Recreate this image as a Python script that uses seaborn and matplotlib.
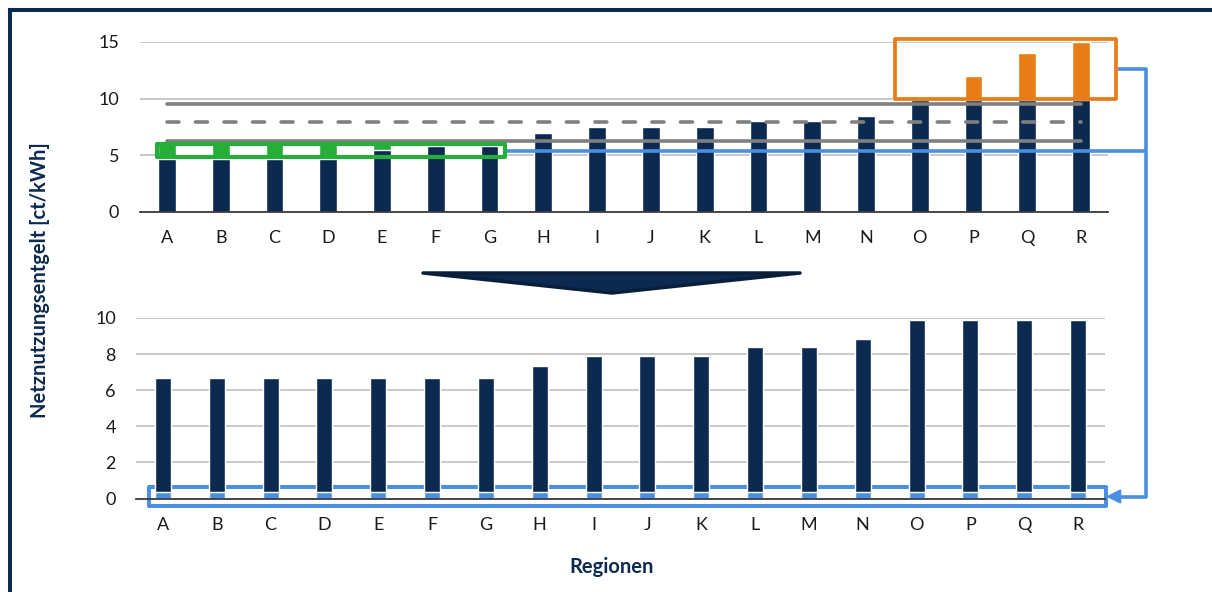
import matplotlib
matplotlib.use("Agg")
import matplotlib.pyplot as plt
import seaborn as sns
from matplotlib.patches import Rectangle, Polygon

# ---------------- data ----------------
regions = list("ABCDEFGHIJKLMNOPQR")
before_values = [4.7, 4.7, 4.7, 4.7, 5.5, 5.85, 5.85, 7.0, 7.5, 7.5, 7.5,
                 8.0, 8.0, 8.5, 9.9, 12.0, 14.0, 15.0]
raised_regions = ["A", "B", "C", "D", "E"]
raised_level = 6.15
cap_level = 9.9
after_values = [6.7, 6.7, 6.7, 6.7, 6.7, 6.7, 6.7, 7.35, 7.9, 7.9, 7.9,
                8.4, 8.4, 8.85, 9.9, 9.9, 9.9, 9.9]
base_part = 0.35
upper_line = 9.5
mean_line = 7.9
lower_line = 6.3
top_ticks = [0, 5, 10, 15]
bottom_ticks = [0, 2, 4, 6, 8, 10]
y_label = "Netznutzungsentgelt [ct/kWh]"
x_label = "Regionen"

# ---------------- style ----------------
NAVY = "#0C2A50"
ORANGE = "#E87D17"
GREEN = "#27AE3A"
LBLUE = "#4A8FE2"
GRAY = "#808080"
GRID = "#C4C4C4"
TXT = "#1A1A1A"

sns.set_theme(style="white")
plt.rcParams["font.family"] = ["Lato", "DejaVu Sans"]

W, H = 1212, 592
fig = plt.figure(figsize=(W / 100, H / 100), dpi=100)
fig.patch.set_facecolor("white")


def axes_rect(left, right, y0, ytop):
    return [left / W, (H - y0) / H, (right - left) / W, (y0 - ytop) / H]


ax_top = fig.add_axes(axes_rect(140, 1108, 212, 42))
ax_bot = fig.add_axes(axes_rect(136, 1105, 498.5, 318))

# ---------------- top chart ----------------
accent_heights = []
accent_colors = []
for r, v in zip(regions, before_values):
    if r in raised_regions:
        accent_heights.append(raised_level)
        accent_colors.append(GREEN)
    elif v > cap_level:
        accent_heights.append(v)
        accent_colors.append(ORANGE)
    else:
        accent_heights.append(0)
        accent_colors.append(NAVY)
navy_heights = [min(v, cap_level) for v in before_values]

sns.barplot(x=regions, y=accent_heights, hue=regions, palette=accent_colors,
            legend=False, order=regions, hue_order=regions, width=0.33,
            saturation=1, errorbar=None, ax=ax_top, zorder=1)
sns.barplot(x=regions, y=navy_heights, color=NAVY, order=regions, width=0.33,
            saturation=1, errorbar=None, ax=ax_top, zorder=1)

n = len(regions)
ax_top.plot([0, n - 1], [upper_line, upper_line], color=GRAY, lw=2.6,
            solid_capstyle="round", zorder=4)
ax_top.plot([0, n - 1], [mean_line, mean_line], color=GRAY, lw=2.6,
            dashes=(3.3, 4.6), dash_capstyle="round", zorder=4)
ax_top.plot([0, n - 1], [lower_line, lower_line], color=GRAY, lw=2.6,
            solid_capstyle="round", zorder=4)

# green box (white fill behind bars, edge on top)
g_x0, g_x1, g_y0, g_y1 = -0.19, 6.29, 4.85, 6.0
ax_top.add_patch(Rectangle((g_x0, g_y0), g_x1 - g_x0, g_y1 - g_y0,
                           facecolor="white", edgecolor="none", zorder=0.9))
ax_top.add_patch(Rectangle((g_x0, g_y0), g_x1 - g_x0, g_y1 - g_y0,
                           fill=False, edgecolor=GREEN, lw=3.0,
                           joinstyle="round", zorder=5, clip_on=False))
# orange box
o_x0, o_x1, o_y0, o_y1 = 13.54, 17.65, 9.97, 15.27
ax_top.add_patch(Rectangle((o_x0, o_y0), o_x1 - o_x0, o_y1 - o_y0,
                           fill=False, edgecolor=ORANGE, lw=2.7,
                           joinstyle="round", zorder=5, clip_on=False))

# ---------------- bottom chart ----------------
sns.barplot(x=regions, y=after_values, color=NAVY, order=regions, width=0.3,
            saturation=1, errorbar=None, ax=ax_bot, zorder=1)
sns.barplot(x=regions, y=[base_part] * n, color=LBLUE, order=regions,
            width=0.3, saturation=1, errorbar=None, ax=ax_bot, zorder=1.1)
b_x0, b_x1, b_y0, b_y1 = -0.26, 17.52, -0.42, 0.64
ax_bot.add_patch(Rectangle((b_x0, b_y0), b_x1 - b_x0, b_y1 - b_y0,
                           fill=False, edgecolor=LBLUE, lw=2.9,
                           joinstyle="round", zorder=0.95, clip_on=False))

# ---------------- axes styling ----------------
for ax, ticks, pad_y in ((ax_top, top_ticks, 15), (ax_bot, bottom_ticks, 14.5)):
    ax.set_xlim(-0.5, n - 0.5)
    ax.set_ylim(ticks[0], ticks[-1])
    ax.set_yticks(ticks)
    ax.set_yticklabels([str(t) for t in ticks])
    ax.set_xlabel("")
    ax.set_ylabel("")
    ax.set_facecolor("none")
    ax.set_axisbelow(True)
    ax.yaxis.grid(True, color=GRID, lw=1.3)
    ax.xaxis.grid(False)
    for s in ("left", "right", "top"):
        ax.spines[s].set_visible(False)
    ax.spines["bottom"].set_color("#3A3A3A")
    ax.spines["bottom"].set_linewidth(1.3)
    ax.spines["bottom"].set_zorder(2.5)
    ax.tick_params(axis="x", length=0, pad=13, labelsize=13, colors=TXT)
    ax.tick_params(axis="y", length=0, pad=pad_y, labelsize=13, colors=TXT)

# ---------------- overlay (pixel coordinates) ----------------
ov = fig.add_axes([0, 0, 1, 1], zorder=10)
ov.set_xlim(0, W)
ov.set_ylim(H, 0)
ov.axis("off")
ov.patch.set_visible(False)


def to_px(ax, x, y):
    dx, dy = ax.transData.transform((x, y))
    return dx, H - dy


# frame
ov.plot([9.5, W + 5], [10, 10], color=NAVY, lw=2.9, solid_capstyle="projecting")
ov.plot([9.5, 9.5], [10, H + 5], color=NAVY, lw=2.9, solid_capstyle="projecting")

# connectors
ox, oy = to_px(ax_top, o_x1, (o_y0 + o_y1) / 2)
gx, gy = to_px(ax_top, g_x1, (g_y0 + g_y1) / 2)
bx, by = to_px(ax_bot, b_x1, (b_y0 + b_y1) / 2)
vx = ox + 30
ox += 2
gx += 2
bx += 1.5
ov.plot([ox, vx, vx, bx + 12], [oy, oy, by, by], color=LBLUE, lw=2.6,
        solid_joinstyle="round", solid_capstyle="butt")
ov.plot([gx, vx], [gy, gy], color=LBLUE, lw=2.6, solid_capstyle="butt")
ov.add_patch(Polygon([(bx, by), (bx + 13, by - 6.5), (bx + 13, by + 6.5)],
                     closed=True, facecolor=LBLUE, edgecolor=LBLUE, lw=1))

# big down-pointing triangle between charts
ov.add_patch(Polygon([(423, 273), (800, 273), (612, 293)], closed=True,
                     facecolor=NAVY, edgecolor="#081E3A", lw=2.5,
                     joinstyle="round"))

# labels
fig.text(40 / W, 1 - 280 / H, y_label, rotation=90, ha="center", va="center",
         fontsize=14.5, fontweight="bold", color=NAVY)
fig.text(612 / W, 1 - 567 / H, x_label, ha="center", va="center",
         fontsize=14.5, fontweight="bold", color=NAVY)

fig.savefig("out.png", dpi=100, facecolor="white")
